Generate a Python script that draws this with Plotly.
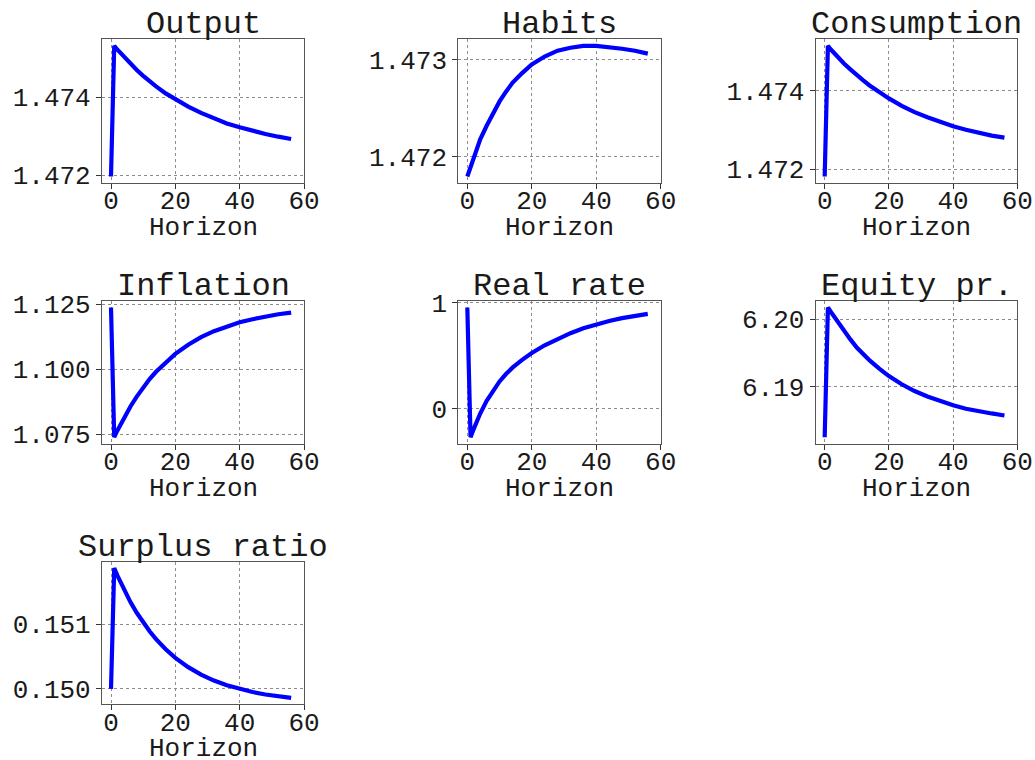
import plotly.graph_objects as go

# ---- data ----
horizon = [0, 1, 2, 3, 4, 6, 8, 10, 12, 14, 17, 20, 24, 28, 32, 36, 40, 44, 48, 52, 56]

output = [1.47197, 1.47532, 1.47522, 1.47513, 1.47504, 1.47486, 1.47470, 1.47455, 1.47441, 1.47428,
          1.47410, 1.47395, 1.47376, 1.47360, 1.47346, 1.47333, 1.47323, 1.47314, 1.47306, 1.47299, 1.47293]
habits = [1.47180, 1.47190, 1.47201, 1.47210, 1.47218, 1.47232, 1.47245, 1.47257, 1.47267, 1.47276,
          1.47286, 1.47295, 1.47303, 1.47309, 1.47312, 1.47314, 1.47314, 1.47313, 1.47311, 1.47309, 1.47306]
consumption = [1.47181, 1.47514, 1.47504, 1.47495, 1.47486, 1.47469, 1.47454, 1.47439, 1.47426, 1.47413,
               1.47395, 1.47380, 1.47361, 1.47345, 1.47332, 1.47320, 1.47309, 1.47300, 1.47292, 1.47285, 1.47280]
inflation = [1.1237, 1.0739, 1.0765, 1.0790, 1.0813, 1.0856, 1.0895, 1.0930, 1.0962, 1.0990,
             1.1027, 1.1059, 1.1094, 1.1123, 1.1146, 1.1165, 1.1180, 1.1192, 1.1202, 1.1211, 1.1217]
real_rate = [0.957, -0.269, -0.190, -0.115, -0.045, 0.075, 0.175, 0.258, 0.328, 0.388,
             0.462, 0.527, 0.600, 0.662, 0.714, 0.760, 0.798, 0.830, 0.856, 0.879, 0.897]
equity = [6.1826, 6.2017, 6.2010, 6.2003, 6.1996, 6.1983, 6.1970, 6.1958, 6.1948, 6.1939,
          6.1927, 6.1916, 6.1904, 6.1894, 6.1886, 6.1879, 6.1873, 6.1868, 6.1864, 6.1861, 6.1858]
surplus = [0.15000, 0.15187, 0.151754, 0.151644, 0.151540, 0.151349, 0.151179, 0.151028, 0.150892, 0.150771,
           0.150614, 0.150481, 0.150337, 0.150221, 0.150129, 0.150056, 0.149998, 0.149951, 0.149914, 0.149885, 0.149862]

titles = ["Output", "Habits", "Consumption", "Inflation", "Real rate", "Equity pr.", "Surplus ratio"]
series = [output, habits, consumption, inflation, real_rate, equity, surplus]

x_tickvals = [0, 20, 40, 60]
x_ticktext = ["0", "20", "40", "60"]
y_tickvals = [
    [1.472, 1.474],
    [1.472, 1.473],
    [1.472, 1.474],
    [1.075, 1.100, 1.125],
    [0, 1],
    [6.19, 6.20],
    [0.150, 0.151],
]
y_ticktext = [
    ["1.472", "1.474"],
    ["1.472", "1.473"],
    ["1.472", "1.474"],
    ["1.075", "1.100", "1.125"],
    ["0", "1"],
    ["6.19", "6.20"],
    ["0.150", "0.151"],
]
x_label = "Horizon"

# ---- layout geometry (pixels in a 1035x760 page) ----
W, H = 1035, 760
col_px = [(102.0, 304.0), (458.3, 660.7), (815.7, 1017.3)]
row_px = [(39.3, 183.0), (301.0, 443.7), (561.7, 704.3)]

FONT = "Liberation Mono, DejaVu Sans Mono, monospace"
TXT = "#1a1a1a"

fig = go.Figure()
annotations = []
layout = dict(
    width=W, height=H,
    margin=dict(l=0, r=0, t=0, b=0, autoexpand=False),
    paper_bgcolor="white", plot_bgcolor="white",
    showlegend=False,
    font=dict(family=FONT, color=TXT, size=26),
)

for i, (name, vals) in enumerate(zip(titles, series)):
    r, c = divmod(i, 3)
    x0, x1 = col_px[c]
    yt, yb = row_px[r]
    n = i + 1
    xa = f"xaxis{n}" if n > 1 else "xaxis"
    ya = f"yaxis{n}" if n > 1 else "yaxis"
    xref = f"x{n}" if n > 1 else "x"
    yref = f"y{n}" if n > 1 else "y"
    fig.add_trace(go.Scatter(x=horizon, y=vals, mode="lines",
                             line=dict(color="#0000ff", width=4.2),
                             xaxis=xref, yaxis=yref, hoverinfo="skip"))
    lo, hi = min(vals), max(vals)
    pad = 0.05 * (hi - lo)
    xlo, xhi = min(horizon), max(horizon)
    xpad = 0.05 * (xhi - xlo)
    common = dict(showline=True, mirror=True, linecolor="#555555", linewidth=1.2,
                  showgrid=True, gridcolor="#8c8c8c", gridwidth=1.1, griddash="dot",
                  zeroline=False, ticks="outside", ticklen=5, tickwidth=1.1, tickcolor="#333333",
                  automargin=False,
                  tickfont=dict(family=FONT, size=26, color=TXT), tickmode="array")
    layout[xa] = dict(common, domain=[x0 / W, x1 / W], anchor=yref,
                      range=[xlo - xpad, max(x_tickvals)],
                      tickvals=x_tickvals, ticktext=x_ticktext, ticklabelstandoff=-11)
    layout[ya] = dict(common, domain=[1 - yb / H, 1 - yt / H], anchor=xref,
                      range=[lo - pad, hi + pad],
                      tickvals=y_tickvals[i], ticktext=y_ticktext[i])
    annotations.append(dict(text=name, xref="paper", yref="paper",
                            x=(x0 + x1) / 2 / W, y=1 - yt / H, xanchor="center", yanchor="bottom",
                            showarrow=False, yshift=-6,
                            font=dict(family=FONT, size=32, color=TXT)))
    annotations.append(dict(text=x_label, xref="paper", yref="paper",
                            x=(x0 + x1) / 2 / W, y=1 - (yb + 45) / H, xanchor="center", yanchor="middle",
                            showarrow=False,
                            font=dict(family=FONT, size=26, color=TXT)))

layout["annotations"] = annotations
fig.update_layout(**layout)
fig.write_html("out.html")
